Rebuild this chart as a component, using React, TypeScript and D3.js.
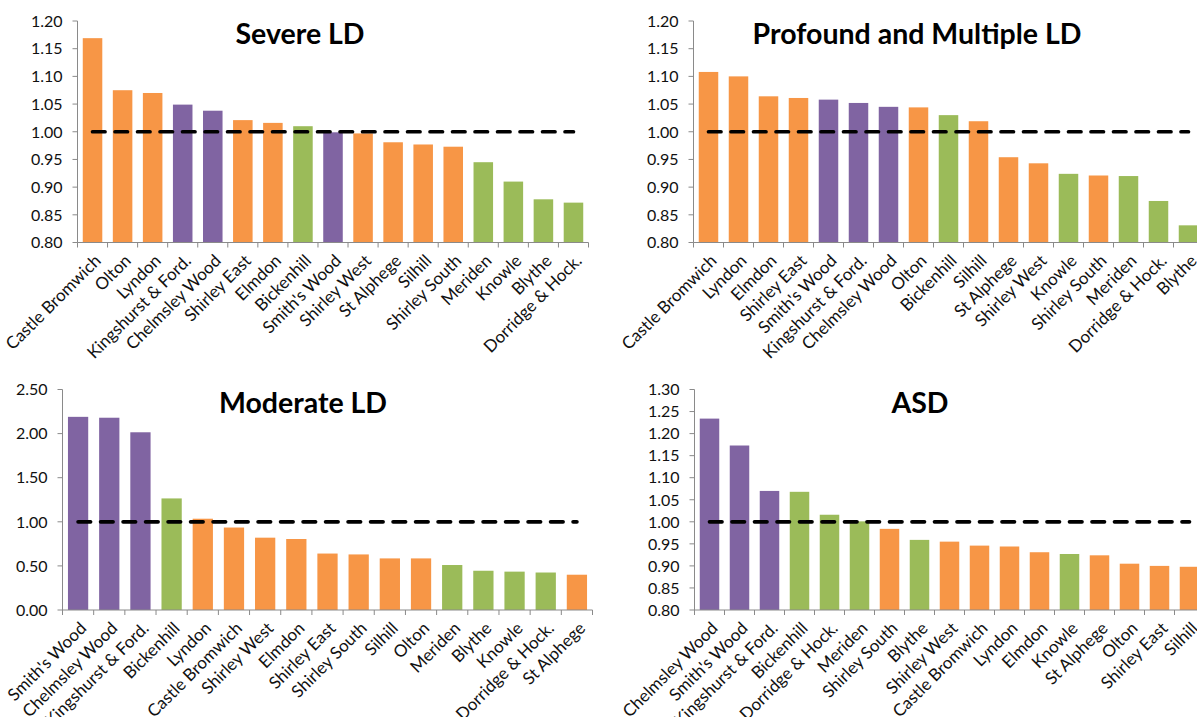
import React from 'react';
import * as d3 from 'd3';

// Locality groupings used to colour each area's bar
const northAreas = ["Smith's Wood", 'Chelmsley Wood', 'Kingshurst & Ford.'];
const ruralAreas = ['Bickenhill', 'Meriden', 'Knowle', 'Blythe', 'Dorridge & Hock.'];

// Severe LD
const severeAreas = [
  'Castle Bromwich', 'Olton', 'Lyndon', 'Kingshurst & Ford.', 'Chelmsley Wood', 'Shirley East',
  'Elmdon', 'Bickenhill', "Smith's Wood", 'Shirley West', 'St Alphege', 'Silhill',
  'Shirley South', 'Meriden', 'Knowle', 'Blythe', 'Dorridge & Hock.',
];
const severeValues = [1.169, 1.075, 1.070, 1.049, 1.038, 1.021, 1.016, 1.010, 0.999, 0.997, 0.981, 0.977, 0.973, 0.945, 0.910, 0.878, 0.872];

// Profound and Multiple LD
const profoundAreas = [
  'Castle Bromwich', 'Lyndon', 'Elmdon', 'Shirley East', "Smith's Wood", 'Kingshurst & Ford.',
  'Chelmsley Wood', 'Olton', 'Bickenhill', 'Silhill', 'St Alphege', 'Shirley West',
  'Knowle', 'Shirley South', 'Meriden', 'Dorridge & Hock.', 'Blythe',
];
const profoundValues = [1.108, 1.100, 1.064, 1.061, 1.058, 1.052, 1.045, 1.044, 1.030, 1.019, 0.954, 0.943, 0.924, 0.921, 0.920, 0.875, 0.831];

// Moderate LD
const moderateAreas = [
  "Smith's Wood", 'Chelmsley Wood', 'Kingshurst & Ford.', 'Bickenhill', 'Lyndon', 'Castle Bromwich',
  'Shirley West', 'Elmdon', 'Shirley East', 'Shirley South', 'Silhill', 'Olton',
  'Meriden', 'Blythe', 'Knowle', 'Dorridge & Hock.', 'St Alphege',
];
const moderateValues = [2.19, 2.18, 2.015, 1.265, 1.035, 0.935, 0.82, 0.805, 0.64, 0.63, 0.585, 0.585, 0.51, 0.445, 0.435, 0.425, 0.40];

// ASD
const asdAreas = [
  'Chelmsley Wood', "Smith's Wood", 'Kingshurst & Ford.', 'Bickenhill', 'Dorridge & Hock.', 'Meriden',
  'Shirley South', 'Blythe', 'Shirley West', 'Castle Bromwich', 'Lyndon', 'Elmdon',
  'Knowle', 'St Alphege', 'Olton', 'Shirley East', 'Silhill',
];
const asdValues = [1.234, 1.173, 1.070, 1.068, 1.016, 1.001, 0.984, 0.959, 0.955, 0.946, 0.944, 0.931, 0.927, 0.924, 0.905, 0.900, 0.898];

// Reference level drawn as a dashed line across each chart
const referenceLevel = 1.0;

const COLOR_URBAN = '#F79646';
const COLOR_NORTH = '#8064A2';
const COLOR_RURAL = '#9BBB59';

const colorFor = (area: string) =>
  northAreas.includes(area) ? COLOR_NORTH : ruralAreas.includes(area) ? COLOR_RURAL : COLOR_URBAN;

const FONT = 'Lato, "Open Sans", "DejaVu Sans", sans-serif';

interface PanelSpec {
  title: string;
  areas: string[];
  values: number[];
  domain: [number, number];
  step: number;
  left: number;
  right: number;
  top: number;
  bottom: number;
  titleX: number;
  titleY: number;
}

const panels: PanelSpec[] = [
  { title: 'Severe LD', areas: severeAreas, values: severeValues, domain: [0.8, 1.2], step: 0.05,
    left: 77.5, right: 588.5, top: 21, bottom: 242.5, titleX: 300, titleY: 44 },
  { title: 'Profound and Multiple LD', areas: profoundAreas, values: profoundValues, domain: [0.8, 1.2], step: 0.05,
    left: 693.5, right: 1203.5, top: 21, bottom: 242.5, titleX: 917, titleY: 44 },
  { title: 'Moderate LD', areas: moderateAreas, values: moderateValues, domain: [0, 2.5], step: 0.5,
    left: 62.5, right: 592.5, top: 389.5, bottom: 610, titleX: 303, titleY: 412.5 },
  { title: 'ASD', areas: asdAreas, values: asdValues, domain: [0.8, 1.3], step: 0.05,
    left: 694.5, right: 1204.5, top: 389.5, bottom: 610, titleX: 920, titleY: 412.5 },
];

function Panel({ spec }: { spec: PanelSpec }) {
  const { areas, values, domain, step, left, right, top, bottom } = spec;
  const x = d3.scaleBand<string>().domain(areas).range([left, right]).paddingInner(0.35).paddingOuter(0.175);
  const y = d3.scaleLinear().domain(domain).range([bottom, top]);
  const ticks = d3.range(domain[0], domain[1] + step / 2, step);
  const bw = x.bandwidth();
  const slot = x.step();
  const boundaries = d3.range(areas.length + 1).map((i) => left + i * slot);
  const refLine = d3.line<string>()
    .x((a) => (x(a) as number) + bw / 2)
    .y(() => y(referenceLevel));

  return (
    <g>
      {areas.map((a, i) => (
        <rect key={a} x={x(a)} y={y(values[i])} width={bw} height={bottom - y(values[i])} fill={colorFor(a)} />
      ))}
      {/* value axis */}
      <line x1={left} x2={left} y1={top} y2={bottom} stroke="#8a8a8a" strokeWidth={1} />
      {ticks.map((t) => (
        <g key={t.toFixed(2)}>
          <line x1={left - 5} x2={left} y1={y(t)} y2={y(t)} stroke="#8a8a8a" strokeWidth={1} />
          <text x={left - 15} y={y(t)} dy="0.36em" textAnchor="end" fontSize={16} fontFamily={FONT} fill="#111">
            {t.toFixed(2)}
          </text>
        </g>
      ))}
      {/* category axis */}
      <line x1={left} x2={right} y1={bottom} y2={bottom} stroke="#8a8a8a" strokeWidth={1} />
      {boundaries.map((bx, i) => (
        <line key={i} x1={bx} x2={bx} y1={bottom} y2={bottom + 5} stroke="#8a8a8a" strokeWidth={1} />
      ))}
      {areas.map((a) => {
        const cx = (x(a) as number) + bw / 2;
        return (
          <text key={a} transform={`translate(${cx + 5},${bottom + 15}) rotate(-45)`} textAnchor="end" dy="0.36em"
            fontSize={17} fontFamily={FONT} fill="#111">
            {a}
          </text>
        );
      })}
      <path d={refLine(areas) || ''} fill="none" stroke="#000" strokeWidth={3.7} strokeDasharray="12.5 10" strokeLinecap="round" />
      <text x={spec.titleX} y={spec.titleY} textAnchor="middle" fontSize={28.5} fontWeight="bold" fontFamily={FONT} fill="#000">
        {spec.title}
      </text>
    </g>
  );
}

export default function App() {
  return (
    <div style={{ position: 'absolute', left: 0, top: 0, width: 1197, height: 717, overflow: 'hidden', background: '#fff' }}>
      <svg width={1197} height={717} viewBox="0 0 1197 717">
        <rect width={1197} height={717} fill="#fff" />
        {panels.map((p) => (
          <Panel key={p.title} spec={p} />
        ))}
      </svg>
    </div>
  );
}
